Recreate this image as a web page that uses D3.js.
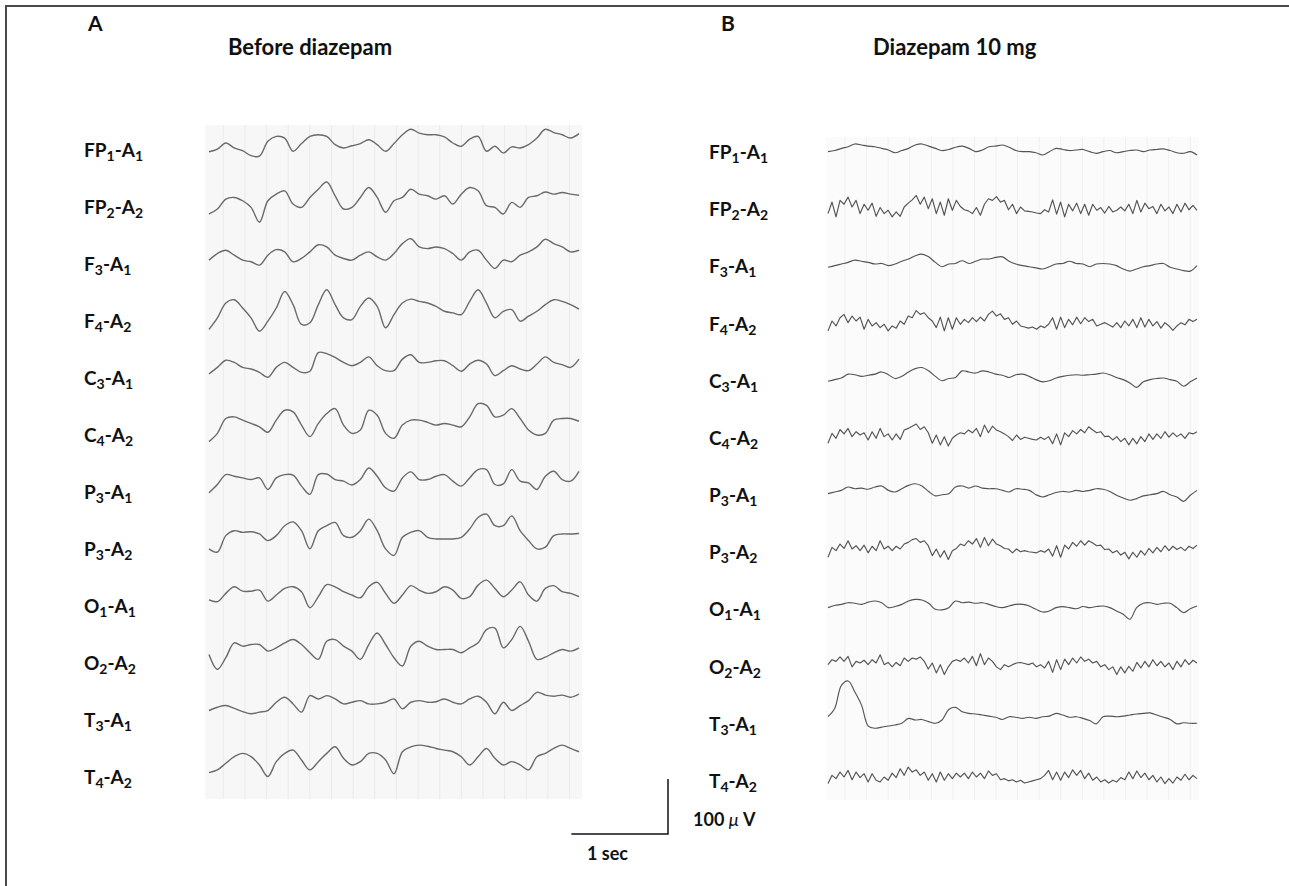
<!DOCTYPE html>
<html>
<head>
<meta charset="utf-8">
<script src="https://cdn.jsdelivr.net/npm/d3@7/dist/d3.min.js"></script>
<style>
  html, body { margin: 0; padding: 0; background: #fff; }
  svg { display: block; }
  text { font-family: Lato, "Open Sans", sans-serif; font-weight: bold; fill: #111; }
</style>
</head>
<body>
<svg id="chart" width="1289" height="886"></svg>
<script>
// ---------------- DATA (values in microvolts, positive = up) ----------------
const channels = ["FP1-A1","FP2-A2","F3-A1","F4-A2","C3-A1","C4-A2","P3-A1","P3-A2","O1-A1","O2-A2","T3-A1","T4-A2"];
const panelTitles = ["Before diazepam", "Diazepam 10 mg"];
const panelLetters = ["A", "B"];
const durationSec = 3.83;      // length of each displayed epoch
const scaleBarUV = 100;        // calibration: 100 µV
const scaleBarSec = 1;         // calibration: 1 sec

// Panel A : before diazepam
const beforeFP1A1 = [-16,-11,0,-9,-14,-23,-24,3,12,9,-15,-1,12,15,12,-3,-9,-5,-1,6,-3,-15,-1,15,25,18,15,15,11,0,-6,7,12,-15,-6,-18,-7,-9,-3,9,25,19,15,9,17];
const beforeFP2A2 = [-27,-18,0,3,-3,-15,-42,-3,9,15,-9,-15,3,18,31,6,-18,-15,3,21,3,-24,-3,3,18,9,6,0,6,-9,9,21,15,-12,-15,-27,-6,-15,3,6,13,9,12,9,7];
const beforeF3A1  = [-9,3,9,0,-9,-12,-18,0,10,6,-12,-6,6,19,15,0,-6,-9,0,6,-3,-9,3,21,30,15,12,15,12,3,-9,6,9,-9,-24,-9,-12,0,6,15,29,21,15,6,9];
const beforeF4A2  = [-33,-12,15,21,6,-12,-36,-18,6,36,12,-24,-21,12,39,12,-12,-15,9,24,9,-30,-6,15,22,18,15,9,0,-3,-6,18,39,15,-12,0,3,-18,-9,0,12,21,18,12,4];
const beforeC3A1  = [-12,0,13,9,0,-3,-9,-18,0,9,0,-9,-7,27,25,18,9,3,9,19,3,-6,-6,15,23,9,9,12,12,3,-7,6,13,6,-15,-6,3,-3,-6,6,19,9,5,0,15];
const beforeC4A2  = [-33,-18,9,12,6,0,-6,-16,6,24,21,-3,-24,0,18,27,-3,-18,-12,24,15,-18,-27,-3,6,6,2,-3,0,-3,-6,12,36,33,12,15,27,9,-12,-21,-18,6,9,9,4];
const beforeP3A1  = [-24,-9,9,6,3,0,3,-18,3,9,8,-12,-27,9,10,0,-3,-10,0,21,6,-15,-21,3,14,0,0,6,9,-3,-12,3,18,18,-9,-8,18,-3,-6,-18,6,15,0,-3,15];
const beforeP3A2  = [-24,-30,0,9,6,7,3,-9,0,18,25,9,-24,9,18,24,0,-3,9,30,9,-24,-36,-3,6,9,-3,-6,-6,-6,-3,12,33,39,18,18,36,9,-9,-24,-21,0,3,3,4];
const beforeO1A1  = [-15,-18,-3,9,1,1,3,-17,-6,6,9,0,-29,-9,13,9,0,-6,-11,9,17,-3,-21,-6,11,3,-3,0,9,3,-12,-9,12,21,6,-9,3,18,-6,-17,6,11,0,-3,-9];
const beforeO2A2  = [-12,-39,-18,9,3,6,6,-6,0,9,15,6,-9,-21,12,15,3,-6,-21,6,27,6,-18,-33,3,12,3,-3,-3,-3,-9,0,9,33,36,0,15,39,12,-21,-17,-9,-3,-6,0];
const beforeT3A1  = [-12,-6,-3,-8,-14,-18,-15,-12,3,12,0,-15,15,9,15,9,0,3,6,0,0,3,9,-9,3,6,3,4,9,3,0,9,14,3,-18,3,-12,-3,6,21,16,14,16,12,18];
const beforeT4A2  = [-23,-18,-6,6,12,6,-9,-30,-3,12,18,0,-18,-3,12,24,3,-9,-3,12,12,0,-25,15,24,27,25,21,18,15,6,-9,6,21,3,-9,-3,-9,-18,6,12,21,27,21,15];

// Panel B : diazepam 10 mg
const afterFP1A1 = [-3,-1,3,6,11,9,7,6,3,0,-5,-1,3,9,11,7,3,-1,1,5,7,3,-3,0,6,7,9,5,-1,-3,-3,-5,-9,-3,3,1,-1,0,1,-3,-6,-3,-1,-5,-3,-1,0,-3,0,1,2,-1,-5,-6,-3,-9];
const afterFP2A2 = [-12,9,-18,12,5,18,0,12,-12,5,-6,7,-17,-1,-12,-6,-18,-9,-17,0,7,13,21,5,18,-3,15,-12,9,-15,15,-6,12,1,-5,-7,-12,-1,-15,5,15,12,19,9,12,-5,5,-12,0,-7,-8,-9,-11,-12,-5,-9,13,-13,9,-18,5,-7,7,-12,5,-15,5,-6,-1,-11,1,-9,-6,0,-7,5,-12,12,-9,7,-3,1,-12,5,-7,0,-12,5,-9,7,-5,3,-6];
const afterF3A1  = [-6,-3,0,3,7,5,3,0,1,-3,0,5,9,15,18,13,3,-5,0,1,6,1,5,9,9,12,13,5,0,-3,-5,-7,-9,-5,0,1,5,1,0,-5,0,1,0,-3,-9,-13,-9,-5,-3,0,1,-6,-9,-12,-13,-3];
const afterF4A2  = [-18,0,-9,6,12,-3,9,0,7,-15,3,-9,-3,-12,-6,-18,-9,-13,0,-6,9,6,19,12,15,6,0,-12,7,-18,6,-15,6,-6,3,-3,6,-1,7,0,12,18,9,13,3,6,-6,0,-9,-11,-13,-11,-15,-9,-12,-6,6,-15,7,-12,3,-7,7,-5,6,-1,3,-9,-6,-3,-7,-11,-3,-12,0,-9,3,-12,6,-11,3,-9,-1,-13,-3,-9,-17,-9,-3,-7,3,-1,3];
const afterC3A1  = [-6,-3,0,7,6,3,5,7,11,6,-1,3,11,17,19,13,3,-5,-1,1,13,11,9,13,11,7,5,1,6,7,3,-3,-7,-5,0,3,5,6,5,6,7,9,6,1,-3,-9,-17,-7,-3,-1,0,-3,-6,-15,-7,0];
const afterC4A2  = [-15,3,-6,10,2,12,-3,6,0,4,-9,6,-6,12,-3,2,-9,2,-8,9,12,16,20,10,15,4,-15,0,-18,-3,-20,-6,0,4,2,9,4,12,-3,18,4,16,9,6,2,-3,-10,0,-8,-4,-6,-8,-9,-4,-8,-3,-16,2,-18,4,-3,8,2,10,4,15,9,4,6,-3,-2,-9,-3,-12,-6,-18,-6,-16,-3,-12,2,-8,2,-6,6,-4,4,-3,2,-6,4,2,6];
const afterP3A1  = [-3,0,3,9,6,7,5,9,11,3,0,6,12,15,11,1,-7,-5,-3,9,11,7,11,7,6,6,3,0,6,5,3,-5,-9,-5,-1,1,0,3,1,3,6,5,1,-6,-11,-15,-12,-7,-5,-3,1,-5,-9,-17,-6,3];
const afterP3A2  = [-15,3,-3,9,1,15,0,6,-3,7,-7,5,-3,15,0,5,-3,5,0,9,12,17,19,12,15,6,-12,0,-15,-3,-19,-3,1,9,6,15,9,19,3,21,6,18,9,6,1,0,-7,0,-5,-3,-5,-6,-7,-3,-6,0,-13,6,-15,7,0,12,5,15,7,15,11,6,7,-1,0,-7,-3,-11,-6,-18,-6,-15,-3,-11,1,-7,3,-5,6,-3,5,-1,3,-3,5,1,7];
const afterO1A1  = [-3,1,3,6,5,3,7,9,6,-3,-1,3,9,12,11,5,-6,-7,-3,9,6,7,5,6,3,-1,-3,0,3,3,0,-6,-11,-9,-3,-1,-3,-5,-1,-3,-1,0,-3,-9,-15,-24,-3,5,6,3,5,5,-3,-12,-5,0];
const afterO2A2  = [-3,6,3,11,3,12,-7,3,0,5,-3,6,0,15,-3,1,-7,1,-5,9,3,9,7,11,3,-11,0,-18,-3,-21,-7,3,6,3,9,0,12,-5,17,-3,9,3,-7,-12,-3,-7,-3,0,1,-1,-3,0,-7,-3,-9,3,-17,6,-12,7,-3,9,0,11,3,7,0,3,-7,-3,-12,-7,-21,-7,-18,-6,-15,1,-9,3,-7,6,-5,3,-7,0,-12,3,-7,6,-3,5,0];
const afterT3A1  = [6,21,63,71,51,27,-11,-15,-13,-11,-9,-6,3,0,1,-3,-6,0,19,23,15,12,11,9,7,5,1,6,5,3,5,3,6,7,12,9,5,6,3,-1,-7,6,7,6,7,9,11,12,13,9,5,1,-7,-5,-6,-6];
const afterT4A2  = [-12,3,-3,9,0,12,-5,9,-1,6,-9,6,-6,-9,0,-6,7,-1,15,3,18,9,13,3,9,-6,6,-9,9,-6,6,-3,7,0,7,-3,9,0,7,-3,11,3,6,-5,-3,-7,-5,-9,-6,-11,-9,-7,-5,-3,3,12,-5,9,-6,9,-1,13,3,12,-3,7,-6,0,-9,-5,-11,-6,-9,-1,-5,9,-3,11,-1,7,-5,3,-9,0,-12,-3,-11,0,-6,5,-5,3,-3];

const beforeSeries = [beforeFP1A1, beforeFP2A2, beforeF3A1, beforeF4A2, beforeC3A1, beforeC4A2, beforeP3A1, beforeP3A2, beforeO1A1, beforeO2A2, beforeT3A1, beforeT4A2];
const afterSeries  = [afterFP1A1, afterFP2A2, afterF3A1, afterF4A2, afterC3A1, afterC4A2, afterP3A1, afterP3A2, afterO1A1, afterO2A2, afterT3A1, afterT4A2];

// ---------------- LAYOUT ----------------
const svg = d3.select("#chart");
const W = 1289, H = 886;

svg.append("rect").attr("width", W).attr("height", H).attr("fill", "#fff");
// frame (top + left)
svg.append("path").attr("d", `M6,${H} V6 H${W}`).attr("fill", "none").attr("stroke", "#4a4a4a").attr("stroke-width", 2);

const panels = [
  { series: beforeSeries, x0: 209, x1: 579, bgX0: 205, bgX1: 582, bgY0: 125, bgY1: 799,
    traceTop: 143, traceBottom: 760, labelX: 84, labelTop: 157, labelBottom: 784,
    letterX: 88, titleX: 228, stroke: "#6a6a6a", width: 1.4, bg: "#f7f7f7", grid: "#eaeaea", gridStart: 0.148 },
  { series: afterSeries, x0: 828, x1: 1197, bgX0: 826, bgX1: 1199, bgY0: 137, bgY1: 800,
    traceTop: 150, traceBottom: 777, labelX: 709, labelTop: 159, labelBottom: 788,
    letterX: 721, titleX: 873, stroke: "#545454", width: 1.15, bg: "#fbfbfb", grid: "#efefef", gridStart: 0.176 }
];

const uv = d3.scaleLinear().domain([0, 100]).range([0, 55]);   // µV -> px amplitude
const gridSec = 0.224;

function labelText(sel, str) {
  const parts = str.split(/(\d)/).filter(s => s.length);
  parts.forEach((p, k) => {
    if (/^\d$/.test(p)) {
      sel.append("tspan").attr("font-size", "14px").attr("dy", 4).text(p);
    } else {
      const t = sel.append("tspan").text(p);
      if (k > 0) t.attr("dy", -4);
    }
  });
}

let timeScaleA = null;

panels.forEach((p, pi) => {
  const x = d3.scaleLinear().domain([0, durationSec]).range([p.x0, p.x1]);
  if (pi === 0) timeScaleA = x;
  const rowY = d3.scalePoint().domain(channels).range([p.traceTop, p.traceBottom]);
  const labelY = d3.scalePoint().domain(channels).range([p.labelTop, p.labelBottom]);

  const g = svg.append("g");
  // paper background
  g.append("rect").attr("x", p.bgX0).attr("y", p.bgY0)
    .attr("width", p.bgX1 - p.bgX0).attr("height", p.bgY1 - p.bgY0).attr("fill", p.bg);
  // faint paper grid lines
  const gridTimes = d3.range(p.gridStart, durationSec + 0.05, gridSec);
  g.selectAll("line.grid").data(gridTimes).join("line")
    .attr("class", "grid")
    .attr("x1", d => x(d)).attr("x2", d => x(d))
    .attr("y1", p.bgY0).attr("y2", p.bgY1)
    .attr("stroke", p.grid).attr("stroke-width", 1);

  // traces
  p.series.forEach((vals, ci) => {
    const n = vals.length;
    const noisy = n > 60;
    const line = d3.line()
      .x((d, i) => x(i / (n - 1) * durationSec))
      .y(d => rowY(channels[ci]) - uv(d))
      .curve(noisy ? d3.curveLinear : d3.curveCatmullRom.alpha(0.5));
    g.append("path").datum(vals).attr("d", line)
      .attr("fill", "none").attr("stroke", p.stroke).attr("stroke-width", p.width)
      .attr("stroke-linejoin", "round");
  });

  // channel labels
  channels.forEach(ch => {
    const t = g.append("text").attr("x", p.labelX).attr("y", labelY(ch)).attr("font-size", "19px");
    labelText(t, ch);
  });

  // headers
  svg.append("text").attr("x", p.letterX).attr("y", 31).attr("font-size", "21px").text(panelLetters[pi]);
  svg.append("text").attr("x", p.titleX).attr("y", 55).attr("font-size", "22px").text(panelTitles[pi]);
});

// calibration bar
const barRight = 668, barBottom = 834;
const barW = timeScaleA(scaleBarSec) - timeScaleA(0);
const barH = uv(scaleBarUV);
svg.append("path")
  .attr("d", `M${barRight - barW},${barBottom} H${barRight} V${barBottom - barH}`)
  .attr("fill", "none").attr("stroke", "#111").attr("stroke-width", 1.5);
const uvText = svg.append("text").attr("x", 693).attr("y", 826).attr("font-size", "18px");
uvText.append("tspan").text(scaleBarUV + " ");
uvText.append("tspan").attr("font-style", "italic").attr("font-weight", "normal").text("\u03bc");
uvText.append("tspan").text(" V");
svg.append("text").attr("x", 587).attr("y", 860).attr("font-size", "18px").text(scaleBarSec + " sec");
</script>
</body>
</html>
